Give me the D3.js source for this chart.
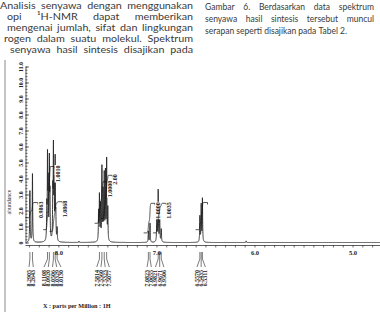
<!DOCTYPE html>
<html>
<head>
<meta charset="utf-8">
<script src="https://cdn.jsdelivr.net/npm/d3@7"></script>
<style>
body { margin: 0; background: #fff; }
svg { display: block; }
</style>
</head>
<body>
<svg width="380" height="312"></svg>
<script>
// text around the figure (two justified columns, left one cut by the crop)
var leftLines = [
    ["Analisis", "senyawa", "dengan", "menggunakan"],
    ["opi", "\u00b9H-NMR", "dapat", "memberikan"],
    ["mengenai", "jumlah,", "sifat", "dan", "lingkungan"],
    ["rogen", "dalam", "suatu", "molekul.", "Spektrum"],
    ["senyawa", "hasil", "sintesis", "disajikan", "pada"]
];
var rightLines = [
    ["Gambar", "6.", "Berdasarkan", "data", "spektrum"],
    ["senyawa", "hasil", "sintesis", "tersebut", "muncul"],
    ["serapan", "seperti", "disajikan", "pada", "Tabel", "2."]
];

// peaks: shift (ppm) and height (abundance)
var peakPpm = [8.2905, 8.2643,
    8.1180, 8.1108, 8.1040, 8.0920, 8.0860, 8.0570, 8.0506, 8.0430, 8.0329, 8.0260, 8.0130,
    7.7900,
    7.5900, 7.5814, 7.5700, 7.5560, 7.5440, 7.5323, 7.5200, 7.5077, 7.4960,
    7.0823, 7.0655, 6.9955, 6.9821, 6.9671, 6.9506,
    6.5570, 6.5435, 6.5311,
    6.0850];
var peakHeight = [3.2, 4.3,
    2.0, 5.1, 3.4, 4.9, 2.6, 2.9, 5.55, 3.2, 5.0, 1.4, 0.8,
    0.08,
    1.8, 2.8, 2.2, 4.55, 3.0, 4.1, 4.2, 5.05, 2.0,
    0.7, 1.2, 2.3, 3.2, 2.0, 0.8,
    1.6, 2.3, 2.7,
    0.1];

// picked peak labels under the axis, per multiplet
var pickGroups = [
    ["8.2905", "8.2643"],
    ["8.1108", "8.0920", "8.0506", "8.0329", "8.0130"],
    ["7.5814", "7.5560", "7.5323", "7.5077"],
    ["7.0823", "7.0655", "6.9821", "6.9671", "6.9506"],
    ["6.5570", "6.5435", "6.5311"]
];

// integrals: range, start/end level and printed value
var intFrom = [8.305, 8.125, 8.060, 7.600, 7.540, 7.100, 7.005, 6.570];
var intTo = [8.250, 8.080, 8.000, 7.545, 7.490, 7.055, 6.940, 6.520];
var intLow = [1.55, 0.8, 0.7, 1.2, 1.5, 0.6, 0.6, 0.8];
var intHigh = [2.5, 4.75, 2.55, 3.8, 4.2, 2.45, 2.45, 2.5];
var intLabels = ["0.9863", "1.0010", "1.0868", "1.0000", "2.00", "1.0000", "1.0035", ""];

var yMajor = d3.range(0, 12);
var xMajor = [8, 7, 6, 5];

var svg = d3.select("svg");
var bodyFont = "Lato, 'Open Sans', sans-serif";
var plotFont = "'Liberation Serif', 'DejaVu Serif', serif";

// ---------- column text ----------
function wordWidths(words, size) {
    var t = svg.append("g").selectAll("text").data(words).enter().append("text")
        .attr("font-family", bodyFont).attr("font-size", size).text(d => d);
    var w = t.nodes().map(n => n.getComputedTextLength());
    t.remove();
    return w;
}

function natural(words, size) {
    var w = wordWidths(words, size);
    return d3.sum(w) + size * 0.24 * (w.length - 1);
}

var fsR = 9.6, fsL = 10.4;
// horizontal squeeze per column, taken from lines with plain spacing in the scan
var sxR = 142 / natural(rightLines[2], fsR);
var sxL = 178 / natural(leftLines[2], fsL);

function drawLine(words, xs, xe, yb, justify, sx, size) {
    var widths = wordWidths(words, size);
    var gap = justify ? ((xe - xs) / sx - d3.sum(widths)) / (words.length - 1) : size * 0.24;
    var g = svg.append("g").attr("transform", "translate(" + xs + "," + yb + ") scale(" + sx + ",1)");
    var cx = 0;
    var pos = widths.map(w => { var v = cx; cx += w + gap; return v; });
    g.selectAll("text").data(words).enter().append("text")
        .attr("x", (d, i) => pos[i])
        .attr("font-family", bodyFont)
        .attr("font-size", size)
        .attr("fill", "#3a3a3a")
        .text(d => d);
}

var leftStart = [0, 7, 7, 4, 10];
var leftBase = [8.9, 19.9, 30.7, 41.6, 52.7];
leftLines.forEach((l, i) => drawLine(l, leftStart[i], 193, leftBase[i], true, sxL, fsL));
var rightBase = [9.8, 21.9, 34.1];
rightLines.forEach((l, i) => drawLine(l, 205, 374, rightBase[i], i < 2, sxR, fsR));

// ---------- spectrum ----------
var x = d3.scaleLinear().domain([8.32, 4.72]).range([27, 380]);
var y = d3.scaleLinear().domain([0, 11]).range([242.5, 66.5]);

// frame line on the left of the scanned figure
svg.append("line")
    .attr("x1", 5).attr("x2", 5).attr("y1", 60).attr("y2", 312)
    .attr("stroke", "#8a8a8a").attr("stroke-width", 1);

var hw = 0.0025; // lorentzian half width in ppm
function spec(v) {
    var s = 0;
    for (var i = 0; i < peakPpm.length; i++) {
        var d = (v - peakPpm[i]) / hw;
        s += peakHeight[i] / (1 + d * d);
    }
    return s;
}
var grid = d3.range(8.32, 4.72, -0.0005);
var line = d3.line().x(d => x(d[0])).y(d => y(d[1]));

svg.append("path")
    .datum(grid.map(v => [v, spec(v)]))
    .attr("d", line)
    .attr("fill", "none")
    .attr("stroke", "#262626")
    .attr("stroke-width", 0.9);

// y axis: ticks pointing inside, rotated labels
var yAxisG = svg.append("g").attr("transform", "translate(25.5,0)");
yAxisG.call(d3.axisLeft(y).tickValues(d3.range(0, 11.01, 0.2)).tickSizeInner(-2).tickSizeOuter(0).tickFormat(""));
var yLab = svg.append("g").attr("transform", "translate(25.5,0)")
    .call(d3.axisLeft(y).tickValues(yMajor).tickSizeInner(-3.5).tickSizeOuter(0)
        .tickFormat(d => d === 0 ? "0" : d3.format(".1f")(d)));
yLab.select(".domain").remove();
yLab.selectAll("text")
    .attr("transform", "rotate(-90)")
    .attr("x", 0).attr("y", -3).attr("dy", 0)
    .attr("text-anchor", "middle")
    .attr("font-family", plotFont).attr("font-size", 5.8).attr("font-weight", "bold")
    .attr("fill", "#222");
svg.selectAll(".domain").attr("stroke", "#333").attr("stroke-width", 0.8);
svg.selectAll(".tick line").attr("stroke", "#333").attr("stroke-width", 0.7);

svg.append("text")
    .attr("transform", "translate(11,202) rotate(-90)")
    .attr("text-anchor", "middle")
    .attr("font-family", plotFont).attr("font-size", 5.8)
    .attr("fill", "#333")
    .text("abundance");

// x axis
var xTicks = d3.range(48, 84).map(v => v / 10);
var xAxisG = svg.append("g").attr("transform", "translate(0,245)")
    .call(d3.axisBottom(x).tickValues(xTicks).tickSizeInner(2.5).tickSizeOuter(0)
        .tickFormat(d => xMajor.indexOf(d) >= 0 ? d3.format(".1f")(d) : ""));
xAxisG.select(".domain").attr("d", "M25.5,0.5H380").attr("stroke", "#333").attr("stroke-width", 0.8);
xAxisG.selectAll(".tick line").attr("stroke", "#333").attr("stroke-width", 0.7);
xAxisG.selectAll("text")
    .attr("y", 5).attr("dy", "0.71em")
    .attr("font-family", plotFont).attr("font-size", 6.5).attr("font-weight", "bold")
    .attr("fill", "#222");

svg.append("text")
    .attr("x", 43).attr("y", 308)
    .attr("font-family", plotFont).attr("font-size", 6.2).attr("font-weight", "bold")
    .attr("fill", "#222")
    .text("X : parts per Million : 1H");

// integral traces
intFrom.forEach((f, k) => {
    var t = intTo[k];
    var pts = d3.range(f, t, -0.0005);
    var acc = 0;
    var cum = pts.map(v => { acc += spec(v); return acc; });
    var tr = pts.map((v, i) => [v, intLow[k] + (intHigh[k] - intLow[k]) * cum[i] / acc]);
    var g = svg.append("g").attr("stroke", "#111").attr("stroke-width", 0.7).attr("fill", "none");
    g.append("path").datum(tr).attr("d", line);
    var x0 = x(f), x1 = x(t), y0 = y(intLow[k]), y1 = y(intHigh[k]);
    g.append("path").attr("d", "M" + (x0 - 3) + "," + y0 + "H" + x0);
    g.append("path").attr("d", "M" + x1 + "," + y1 + "H" + (x1 + 4) + "V" + (y1 + 2));
    if (intLabels[k]) {
        var lx = x1 + 7 + 2;
        var txt = svg.append("text")
            .attr("transform", "translate(" + lx + "," + (y1 - 1) + ") rotate(-90)")
            .attr("text-anchor", "end")
            .attr("font-family", plotFont).attr("font-size", 6).attr("font-weight", "bold")
            .attr("fill", "#111")
            .text(intLabels[k]);
        var len = txt.node().getComputedTextLength();
        svg.insert("rect", function () { return txt.node(); })
            .attr("x", lx - 5).attr("y", y1 - 1.5)
            .attr("width", 6).attr("height", len + 1)
            .attr("fill", "#fff");
    }
});

// picked peak labels with fan leaders
pickGroups.forEach(grp => {
    var px = grp.map(s => x(+s));
    var c = d3.mean(px);
    var lxs = grp.map((s, i) => c + (i - (grp.length - 1) / 2) * 4.2);
    var g = svg.append("g").attr("stroke", "#222").attr("stroke-width", 0.6).attr("fill", "none");
    grp.forEach((s, i) => {
        g.append("path").attr("d", "M" + px[i] + ",252V259L" + lxs[i] + ",267");
        svg.append("text")
            .attr("transform", "translate(" + (lxs[i] + 2) + ",270) rotate(-90)")
            .attr("text-anchor", "end")
            .attr("font-family", plotFont).attr("font-size", 6).attr("font-weight", "bold")
            .attr("fill", "#222")
            .text(s);
    });
});
</script>
</body>
</html>
